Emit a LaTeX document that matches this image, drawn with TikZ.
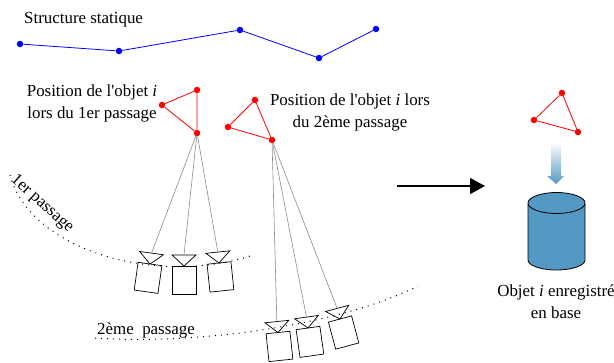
\documentclass[tikz,border=0pt]{standalone}
\usepackage{fontspec}
\setmainfont{Liberation Serif}
\usetikzlibrary{arrows.meta}
\definecolor{Basecolor}{RGB}{84,153,196}
\tikzset{
    bluedot/.style={circle, fill=blue, inner sep=0pt, minimum size=6.5pt},
    reddot/.style={circle, fill=red, inner sep=0pt, minimum size=6.5pt},
    blueline/.style={blue, line width=0.8pt},
    redline/.style={red, line width=0.8pt},
    rayline/.style={gray!90, line width=0.6pt},
    pathline/.style={line width=1pt, dash pattern=on 1pt off 5pt},
    label/.style={font=\fontsize{16.9}{22}\selectfont, align=center, inner sep=0pt}
}

\begin{document}
\begin{tikzpicture}[x=1pt, y=-1pt]
    \useasboundingbox (0,0) rectangle (614,362);

    % structure
    \node[label, anchor=west] (titre) at (24,19.5) {Structure statique};
    \foreach \name/\px/\py in {s1/20/44, s2/119/51, s3/240/30, s4/319/58, s5/376/29}{
        \node[bluedot] (\name) at (\px,\py) {};
    }
    \draw[blueline] (s1) -- (s2) -- (s3) -- (s4) -- (s5);

    % les trois objets
    \foreach \name/\px/\py in {a1/197/90, a2/162/105, a3/197/133, b1/255/100, b2/228/127, b3/272/140, c1/562/93, c2/534/120, c3/578/132}{
        \node[reddot] (\name) at (\px,\py) {};
    }
    \draw[redline] (a1) -- (a2) -- (a3) -- (a1);
    \draw[redline] (b1) -- (b2) -- (b3) -- (b1);
    \draw[redline] (c1) -- (c2) -- (c3) -- (c1);
    \node[label] (pos1) at (92,103.5) {Position de l\textquotesingle objet \textit{i}\\lors du 1er passage};
    \node[label] (pos2) at (350,112.5) {Position de l\textquotesingle objet \textit{i} lors\\du 2ème passage};

    % passages
    \draw[pathline] (10,175) .. controls (30,250) and (155,286) .. (250,256);
    \draw[pathline] (95,338) .. controls (200,345) and (340,325) .. (418,286);
    \node[label, rotate=-42] (p1) at (42,204) {1er passage};
    \node[label] (p2) at (146,330) {2ème\ \ passage};

    % cameras
    \foreach \name/\px/\py/\ang in {k1/150/264/-8, k2/184/266/0, k3/219/263/6, k4/278/332.5/6, k5/308/328/8, k6/340/319/15}{
        \begin{scope}[shift={(\px,\py)}, rotate=\ang]
            \draw[line width=0.7pt] (-12,-11) -- (12,-11) -- (0,0) -- cycle;
            \draw[line width=0.7pt] (-12,0) rectangle (12,28);
            \coordinate (\name) at (0,-11);
        \end{scope}
    }
    \foreach \obj/\cam in {a3/k1, a3/k2, a3/k3, b3/k4, b3/k5, b3/k6}{
        \draw[rayline] (\obj) -- (\cam);
    }

    % fleche et base
    \coordinate (f1) at (397,186);
    \coordinate (f2) at (485,186);
    \draw[line width=1.5pt, -{Triangle[length=15pt, width=16pt]}] (f1) -- (f2);
    \shade[top color=white, bottom color=Basecolor] (551,142) -- (561,142) -- (561,176) -- (564,176) -- (556,184) -- (547,176) -- (551,176) -- cycle;
    \draw[fill=Basecolor, line width=0.8pt] (528,203) -- (528,260) arc[start angle=180, end angle=360, x radius=28.5, y radius=-10] -- (585,203) arc[start angle=0, end angle=360, x radius=28.5, y radius=-10.5];
    \node[label] (base) at (556,301.5) {Objet \textit{i} enregistré\\en base};
\end{tikzpicture}
\end{document}
